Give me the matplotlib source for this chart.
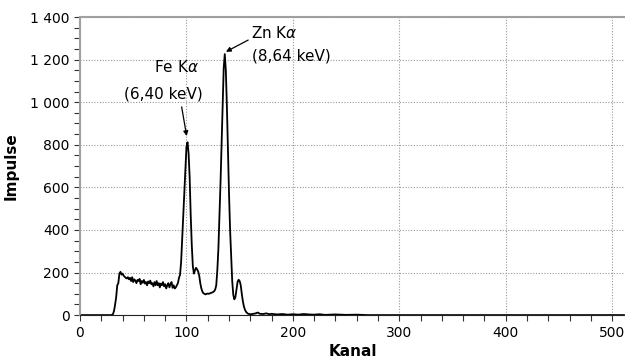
import matplotlib
matplotlib.use("Agg")
import matplotlib.pyplot as plt
from matplotlib.ticker import MultipleLocator, FuncFormatter

# spectrum counts, channel 28 .. 158 (one value per channel)
start_channel = 28
main_counts = [
    0, 0, 1, 5, 20, 50, 85, 140, 150, 195, 203,
    190, 195, 185, 180, 175, 172, 178, 168, 175, 160,
    178, 155, 168, 162, 150, 165, 160, 170, 145, 160,
    152, 165, 148, 155, 140, 158, 150, 162, 145, 150,
    135, 155, 140, 160, 140, 150, 130, 148, 140, 155,
    135, 145, 125, 140, 150, 130, 145, 155, 128, 140,
    125, 130, 140, 150,
    175, 190, 250, 360, 480, 590, 700, 790, 812, 760,
    650, 470, 330, 230, 195, 210, 222, 215, 205, 185,
    150, 125, 110, 102, 100, 97, 100, 101, 100, 102,
    104, 106, 108, 112, 120, 140, 210, 310, 460, 620,
    800, 990, 1160, 1226, 1150, 980, 770, 570, 400, 280,
    160, 95, 74, 85, 120, 155, 166, 160, 140, 100,
    65, 40, 25, 15, 10, 6,
]
# sparse tail after the Zn peak
tail_channels = [160, 162, 165, 167, 169, 172, 175, 178, 180, 185, 190, 195,
                 200, 205, 210, 215, 220, 225, 230, 240, 250, 260, 270, 511]
tail_counts = [4, 5, 8, 12, 6, 5, 8, 4, 6, 3, 5, 2,
               4, 2, 5, 3, 2, 4, 1, 3, 1, 2, 0, 0]

channels = [0] + list(range(start_channel, start_channel + len(main_counts))) + tail_channels
counts = [0] + main_counts + tail_counts

fig = plt.figure(figsize=(6.25, 3.63), dpi=100)
ax = fig.add_axes([0.128, 0.132, 0.872, 0.821])

ax.plot(channels, counts, color="black", lw=1.3)

ax.set_xlim(0, 512)
ax.set_ylim(0, 1400)
ax.xaxis.set_major_locator(MultipleLocator(100))
ax.xaxis.set_minor_locator(MultipleLocator(20))
ax.yaxis.set_major_locator(MultipleLocator(200))
ax.yaxis.set_minor_locator(MultipleLocator(50))
ax.yaxis.set_major_formatter(FuncFormatter(lambda v, p: f"{int(v):,}".replace(",", " ")))

ax.grid(True, which="major", color="#999999", ls=(0, (1, 1.5)), lw=0.8)
ax.tick_params(which="both", direction="out", length=4, width=0.8,
               colors="#333333", labelcolor="black", labelsize=10)

for s in ("left", "top"):
    ax.spines[s].set_color("#a0a0a0")
    ax.spines[s].set_linewidth(1.5)
ax.spines["right"].set_visible(False)
ax.spines["bottom"].set_color("#222222")

ax.set_xlabel("Kanal", fontsize=11, fontweight="bold", labelpad=3)
ax.set_ylabel("Impulse", fontsize=11, fontweight="bold", labelpad=8)

arrow = dict(arrowstyle="-|>", color="black", lw=0.9, mutation_scale=7, shrinkA=0, shrinkB=0)
ax.annotate("", xy=(100.2, 841), xytext=(95.5, 978), arrowprops=arrow)
ax.annotate("", xy=(137.1, 1237), xytext=(158, 1292), arrowprops=arrow)

ax.text(91, 1165, r"Fe K$\alpha$", fontsize=11, ha="center", va="center")
ax.text(78, 1038, "(6,40 keV)", fontsize=11, ha="center", va="center")
ax.text(160.5, 1325, r"Zn K$\alpha$", fontsize=11, ha="left", va="center")
ax.text(161.5, 1216, "(8,64 keV)", fontsize=11, ha="left", va="center")

fig.savefig("out.png", dpi=100)
